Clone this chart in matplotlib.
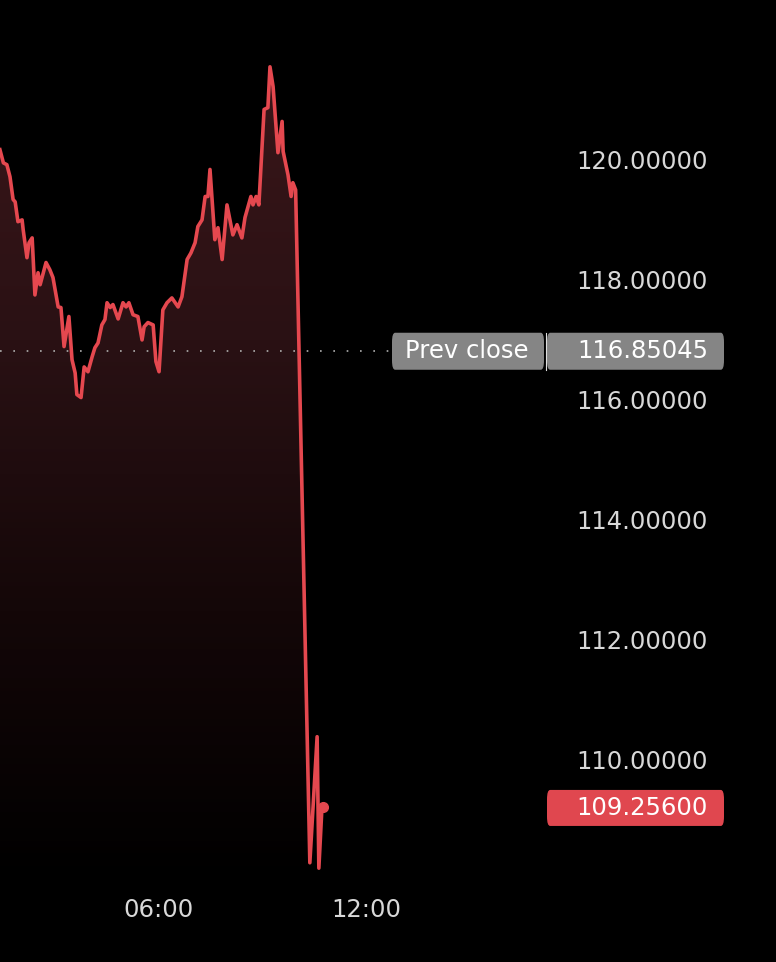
import numpy as np
import matplotlib
matplotlib.use('Agg')
import matplotlib.pyplot as plt
from matplotlib.colors import LinearSegmentedColormap
from matplotlib.patches import FancyBboxPatch

# intraday price, time in hours
hours = [1.44, 1.54, 1.64, 1.73, 1.82, 1.88, 1.96, 2.08, 2.11, 2.22, 2.28, 2.37, 2.45, 2.54,
         2.60, 2.77, 2.88, 2.97, 3.12, 3.20, 3.29, 3.43, 3.52, 3.61, 3.66, 3.78, 3.87, 3.98,
         4.10, 4.18, 4.27, 4.38, 4.47, 4.53, 4.62, 4.70, 4.85, 4.99, 5.08, 5.16, 5.28, 5.42,
         5.54, 5.60, 5.71, 5.86, 5.94, 6.03, 6.14, 6.26, 6.40, 6.58, 6.69, 6.84, 6.95, 7.07,
         7.15, 7.27, 7.36, 7.44, 7.50, 7.64, 7.73, 7.85, 7.99, 8.16, 8.28, 8.42, 8.51, 8.68,
         8.74, 8.83, 8.91, 9.06, 9.17, 9.23, 9.32, 9.46, 9.58, 9.61, 9.75, 9.84, 9.89, 9.97,
         10.38, 10.59, 10.64, 10.73, 10.77]
prices = [120.20, 119.98, 119.95, 119.75, 119.37, 119.33, 119.00, 119.03, 118.87, 118.40,
          118.65, 118.73, 117.78, 118.15, 117.95, 118.32, 118.20, 118.07, 117.58, 117.57,
          116.92, 117.42, 116.70, 116.48, 116.12, 116.07, 116.58, 116.50, 116.75, 116.90,
          116.98, 117.28, 117.37, 117.65, 117.57, 117.62, 117.38, 117.65, 117.58, 117.65,
          117.45, 117.42, 117.03, 117.25, 117.32, 117.28, 116.67, 116.50, 117.53, 117.65,
          117.73, 117.58, 117.75, 118.37, 118.48, 118.65, 118.92, 119.03, 119.42, 119.42,
          119.87, 118.70, 118.90, 118.37, 119.28, 118.78, 118.95, 118.73, 119.07, 119.42,
          119.28, 119.42, 119.28, 120.87, 120.90, 121.58, 121.25, 120.15, 120.67, 120.17,
          119.78, 119.42, 119.65, 119.53, 108.32, 110.42, 108.23, 109.25, 109.256]
prev_close = 116.85045
last_price = 109.256
yticks = [110, 112, 114, 116, 118, 120]
xticks = [6, 12]
xticklabels = ['06:00', '12:00']

W, H = 776, 962
fig = plt.figure(figsize=(W / 100, H / 100 + 0.004), dpi=100, facecolor='black')
ax = fig.add_axes([0, 0, 1, 1])
ax.set_facecolor('black')

# pixel mapping: 06:00 at x=158, 12:00 at x=366; 120 at y=162, 110 at y=762
px_per_h = 208 / 6
x0 = 6 - 158 / px_per_h
x1 = 6 + (W - 158) / px_per_h
y_top = 120 + 162 / 60
y_bot = 120 - (H - 162) / 60


def px2t(px):
    return 6 + (px - 158) / px_per_h


def py2v(py):
    return 120 - (py - 162) / 60


line_red = '#e5484f'

# gradient fill under the line, fading out to black at the bottom
fill_base = 108.0
poly = ax.fill_between(hours, prices, fill_base, color='none', lw=0)
cmap = LinearSegmentedColormap.from_list('fade', ['#000000', '#140708', '#2a1114', '#3a1619'])
grad = np.linspace(0, 1, 256).reshape(-1, 1)
img = ax.imshow(grad, cmap=cmap, aspect='auto', origin='lower',
                extent=[hours[0], hours[-1], fill_base, max(prices)], zorder=1)
img.set_clip_path(poly.get_paths()[0], transform=ax.transData)
ax.set_xlim(x0, x1)
ax.set_ylim(y_bot, y_top)
ax.axis('off')

ax.plot(hours, prices, color=line_red, lw=2.6, solid_joinstyle='round', zorder=3)
ax.plot(hours[-1], prices[-1], 'o', color=line_red, ms=7, zorder=4)

# prev close dotted line
ax.plot([x0, px2t(390)], [prev_close, prev_close], color='#b0b0b0', lw=1.2,
        linestyle=(0, (1, 7)), zorder=2)

label_x = px2t(708)
for v in yticks:
    ax.text(label_x, v, f'{v:.5f}', color='#d8d8d8', fontsize=17.5,
            ha='right', va='center', zorder=5)

for t, lab in zip(xticks, xticklabels):
    ax.text(t, py2v(910), lab, color='#d8d8d8', fontsize=17.5,
            ha='center', va='center', zorder=5)


def badge(xa, xb, ya, yb, color):
    p = FancyBboxPatch((px2t(xa), py2v(yb)), px2t(xb) - px2t(xa), py2v(ya) - py2v(yb),
                       boxstyle='round,pad=0,rounding_size=0.09',
                       mutation_aspect=60 / px_per_h,
                       fc=color, ec='none', zorder=5)
    ax.add_patch(p)


badge(392, 544, 333, 370, '#858585')
badge(547, 724, 333, 370, '#858585')
ax.plot([px2t(545.5)] * 2, [py2v(333), py2v(370)], color='#e0e0e0', lw=0.8, zorder=5)
ax.text(px2t(467), prev_close, 'Prev close', color='white', fontsize=17.5,
        ha='center', va='center', zorder=6)
ax.text(label_x, prev_close, f'{prev_close:.5f}', color='white', fontsize=17.5,
        ha='right', va='center', zorder=6)

badge(547, 724, 790, 826, '#e0474f')
ax.text(label_x, py2v(808), f'{last_price:.5f}', color='white', fontsize=17.5,
        ha='right', va='center', zorder=6)

fig.savefig('out.png', dpi=100, facecolor='black')
